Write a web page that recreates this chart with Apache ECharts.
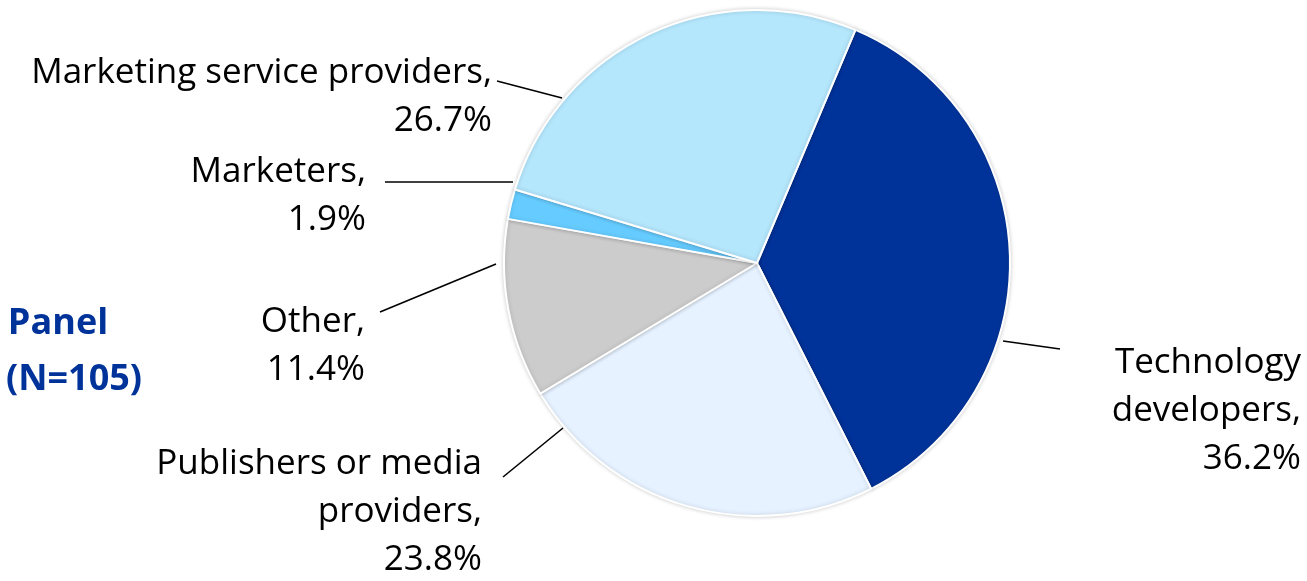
<!DOCTYPE html>
<html>
<head>
<meta charset="utf-8">
<script src="https://cdn.jsdelivr.net/npm/echarts@6/dist/echarts.min.js"></script>
<style>
html,body{margin:0;padding:0;background:#fff;}
#chart{width:1307px;height:581px;}
</style>
</head>
<body>
<div id="chart"></div>
<script>
// Data (counts out of N=105)
const categories = ['Technology\ndevelopers', 'Publishers or media\nproviders', 'Other', 'Marketers', 'Marketing service providers'];
const counts = [38, 25, 12, 2, 28];
const colors = ['#00339A', '#E6F2FF', '#CCCCCC', '#66CCFF', '#B4E6FC'];
const panelLines = ['Panel', '(N=105)'];

// Label placement (text anchor, right-aligned) and leader lines
const labelAnchors = [[1301, 411], [482, 512], [365, 346], [366, 196], [492, 97]];
const leaderLines = [
  [[1003, 341], [1060, 349]],
  [[563, 428], [503, 477]],
  [[496, 264], [380, 312]],
  [[513, 182], [385, 182]],
  [[562, 98], [497, 81]]
];

const chart = echarts.init(document.getElementById('chart'), null, {renderer: 'canvas'});
const font = '"Open Sans", "Noto Sans", sans-serif';

chart.setOption({
  animation: false,
  backgroundColor: '#ffffff',
  graphic: [
    {type: 'text', x: 58, y: 324, silent: true,
     style: {text: panelLines[0], fill: '#00339A', font: 'bold 36px ' + font, align: 'center', verticalAlign: 'middle'}},
    {type: 'text', x: 74, y: 380, silent: true,
     style: {text: panelLines[1], fill: '#00339A', font: 'bold 36px ' + font, align: 'center', verticalAlign: 'middle'}}
  ],
  series: [{
    type: 'pie',
    silent: true,
    center: [757, 263],
    radius: 253,
    startAngle: 67.1,
    clockwise: true,
    percentPrecision: 1,
    avoidLabelOverlap: false,
    data: categories.map((c, i) => ({
      name: c,
      value: counts[i],
      itemStyle: {color: colors[i]}
    })),
    itemStyle: {
      borderColor: '#ffffff',
      borderWidth: 2,
      shadowBlur: 4,
      shadowColor: 'rgba(0,0,0,0.18)'
    },
    label: {
      show: true,
      position: 'outside',
      formatter: p => p.name + ',\n' + p.percent.toFixed(1) + '%',
      color: '#000',
      fontFamily: font,
      fontSize: 35,
      lineHeight: 48,
      align: 'right'
    },
    labelLine: {
      show: true,
      lineStyle: {color: '#000', width: 1.6}
    },
    labelLayout: function (params) {
      const i = params.dataIndex;
      return {
        x: labelAnchors[i][0],
        y: labelAnchors[i][1],
        align: 'right',
        verticalAlign: 'middle',
        labelLinePoints: leaderLines[i]
      };
    }
  }]
});
</script>
</body>
</html>
